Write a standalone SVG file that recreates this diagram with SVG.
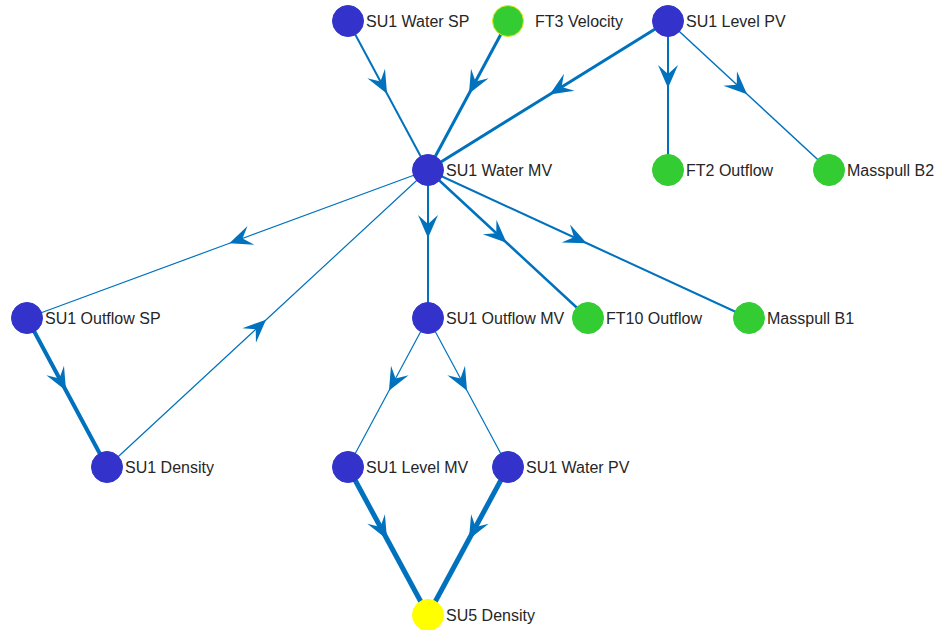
<svg xmlns="http://www.w3.org/2000/svg" width="938" height="630" viewBox="0 0 938 630">
<style>
.e{fill:none;stroke:#0072BD;stroke-linecap:butt;marker-mid:url(#ah)}
.n circle{stroke-width:1}
.b{fill:#3333CC;stroke:#3333CC}
.g{fill:#33CC33;stroke:#33CC33}
.y{fill:#FFFF00;stroke:#FFFF00}
text{font-family:"Liberation Sans",Arial,sans-serif;font-size:16px;fill:#262626}
</style>
<defs>
<marker id="ah" markerUnits="userSpaceOnUse" viewBox="-26 -12 28 24" markerWidth="28" markerHeight="24" refX="2" refY="0" orient="auto">
<path d="M0,0 L-23,-10 L-14,0 L-23,10 Z" fill="#0072BD"/>
</marker>
</defs>
<rect width="938" height="630" fill="#fff"/>
<g id="edges">
<polyline class="e" stroke-width="2" points="348,21 388,95.5 428,170"/>
<polyline class="e" stroke-width="3" points="508,21 468,95.5 428,170"/>
<polyline class="e" stroke-width="3" points="668,21 548,95.5 428,170"/>
<polyline class="e" stroke-width="2" points="668,21 668,90 668,170"/>
<polyline class="e" stroke-width="1.5" points="668,21 748.5,95.5 829,170"/>
<polyline class="e" stroke-width="1.2" points="428,170 227.5,244 27,318"/>
<polyline class="e" stroke-width="1.2" points="107,467 267.5,318.5 428,170"/>
<polyline class="e" stroke-width="2" points="428,170 428,240 428,318"/>
<polyline class="e" stroke-width="2.5" points="428,170 508,244 588,318"/>
<polyline class="e" stroke-width="2" points="428,170 588.5,244 749,318"/>
<polyline class="e" stroke-width="4" points="27,318 67,392.5 107,467"/>
<polyline class="e" stroke-width="1.2" points="428,318 388,392.5 348,467"/>
<polyline class="e" stroke-width="1.2" points="428,318 468,392.5 508,467"/>
<polyline class="e" stroke-width="5" points="348,467 388,541 428,615"/>
<polyline class="e" stroke-width="5" points="508,467 468,541 428,615"/>
</g>
<g id="n-su1-water-sp" class="n"><circle class="b" cx="348" cy="21" r="15.5"/><text x="366" y="27">SU1 Water SP</text></g>
<g id="n-ft3-velocity" class="n"><circle class="g" cx="508" cy="21" r="15.5" style="stroke:#E8E820"/><text x="535" y="27">FT3 Velocity</text></g>
<g id="n-su1-level-pv" class="n"><circle class="b" cx="668" cy="21" r="15.5"/><text x="686" y="27">SU1 Level PV</text></g>
<g id="n-su1-water-mv" class="n"><circle class="b" cx="428" cy="170" r="15.5"/><text x="446" y="176">SU1 Water MV</text></g>
<g id="n-ft2-outflow" class="n"><circle class="g" cx="668" cy="170" r="15.5"/><text x="686" y="176">FT2 Outflow</text></g>
<g id="n-masspull-b2" class="n"><circle class="g" cx="829" cy="170" r="15.5"/><text x="847" y="176">Masspull B2</text></g>
<g id="n-su1-outflow-sp" class="n"><circle class="b" cx="27" cy="318" r="15.5"/><text x="45" y="324">SU1 Outflow SP</text></g>
<g id="n-su1-outflow-mv" class="n"><circle class="b" cx="428" cy="318" r="15.5"/><text x="446" y="324">SU1 Outflow MV</text></g>
<g id="n-ft10-outflow" class="n"><circle class="g" cx="588" cy="318" r="15.5"/><text x="606" y="324">FT10 Outflow</text></g>
<g id="n-masspull-b1" class="n"><circle class="g" cx="749" cy="318" r="15.5"/><text x="767" y="324">Masspull B1</text></g>
<g id="n-su1-density" class="n"><circle class="b" cx="107" cy="467" r="15.5"/><text x="125" y="473">SU1 Density</text></g>
<g id="n-su1-level-mv" class="n"><circle class="b" cx="348" cy="467" r="15.5"/><text x="366" y="473">SU1 Level MV</text></g>
<g id="n-su1-water-pv" class="n"><circle class="b" cx="508" cy="467" r="15.5"/><text x="526" y="473">SU1 Water PV</text></g>
<g id="n-su5-density" class="n"><circle class="y" cx="428" cy="615" r="15.5"/><text x="446" y="621">SU5 Density</text></g>
</svg>
